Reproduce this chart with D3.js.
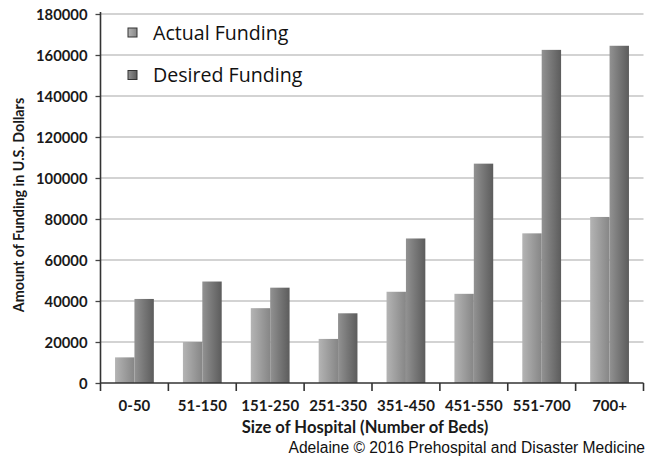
<!DOCTYPE html>
<html>
<head>
<meta charset="utf-8">
<script src="https://cdn.jsdelivr.net/npm/d3@7"></script>
<style>
  html, body { margin: 0; padding: 0; background: #fff; }
  svg { display: block; }
</style>
</head>
<body>
<svg id="chart" width="647" height="459"></svg>
<script>
// Funding by hospital size (US dollars)
const categories = ["0-50", "51-150", "151-250", "251-350", "351-450", "451-550", "551-700", "700+"];
const seriesNames = ["Actual Funding", "Desired Funding"];
const actualFunding = [12500, 20000, 36500, 21500, 44500, 43500, 73000, 81000];
const desiredFunding = [41000, 49500, 46500, 34000, 70500, 107000, 162500, 164500];
const yTicks = [0, 20000, 40000, 60000, 80000, 100000, 120000, 140000, 160000, 180000];

const svg = d3.select("#chart");
const plot = { left: 100.5, right: 643.5, top: 14, bottom: 383 };
const labelFont = "Lato, 'Open Sans', sans-serif";

const defs = svg.append("defs");
function grad(id, stops) {
  const g = defs.append("linearGradient").attr("id", id)
    .attr("x1", "0%").attr("x2", "100%").attr("y1", "0%").attr("y2", "0%");
  stops.forEach(([o, c]) => g.append("stop").attr("offset", o).attr("stop-color", c));
}
grad("gActual", [["0%", "#b4b4b4"], ["100%", "#868686"]]);
grad("gDesired", [["0%", "#929292"], ["45%", "#797979"], ["100%", "#5c5c5c"]]);
const fills = ["url(#gActual)", "url(#gDesired)"];

const x0 = d3.scaleBand().domain(categories).range([plot.left, plot.right]).paddingInner(0).paddingOuter(0);
// two bars per group, gap of 150% of a bar width
const barW = x0.bandwidth() / 3.5;
const x1 = d3.scaleBand().domain(seriesNames).range([0, barW * 2]);
const y = d3.scaleLinear().domain([0, 180000]).range([plot.bottom, plot.top]);

// gridlines
svg.append("g").selectAll("line").data(yTicks.filter(t => t > 0)).join("line")
  .attr("x1", plot.left).attr("x2", plot.right)
  .attr("y1", d => y(d)).attr("y2", d => y(d))
  .attr("stroke", "#c4c4c4").attr("stroke-width", 1.6);

// bars
const rows = categories.map((c, i) => ({ cat: c, vals: [actualFunding[i], desiredFunding[i]] }));
const groups = svg.append("g").selectAll("g").data(rows).join("g")
  .attr("transform", d => `translate(${x0(d.cat) + (x0.bandwidth() - barW * 2) / 2},0)`);
groups.selectAll("rect").data(d => d.vals.map((v, k) => ({ v, k })))
  .join("rect")
  .attr("x", d => x1(seriesNames[d.k]))
  .attr("width", x1.bandwidth())
  .attr("y", d => y(d.v))
  .attr("height", d => y(0) - y(d.v))
  .attr("fill", d => fills[d.k]);

// y axis
const yAxis = d3.axisLeft(y).tickValues(yTicks).tickSize(5).tickPadding(8).tickFormat(d3.format("d"));
const gy = svg.append("g").attr("transform", `translate(${plot.left},0)`).call(yAxis);
gy.select(".domain").remove();
gy.selectAll(".tick line").attr("stroke", "#444").attr("stroke-width", 1.3);
gy.selectAll(".tick text")
  .attr("font-family", labelFont).attr("font-weight", "bold").attr("font-size", 14.8)
  .attr("fill", "#1a1a1a").attr("dy", "0.36em");
svg.append("line").attr("x1", plot.left).attr("x2", plot.left)
  .attr("y1", plot.top - 2).attr("y2", plot.bottom + 8)
  .attr("stroke", "#333").attr("stroke-width", 1.6);

// x axis
const gx = svg.append("g").attr("transform", `translate(0,${plot.bottom})`)
  .call(d3.axisBottom(x0).tickSize(0).tickPadding(17));
gx.select(".domain").remove();
gx.selectAll(".tick text")
  .attr("font-family", labelFont).attr("font-weight", "bold").attr("font-size", 15)
  .attr("fill", "#1a1a1a");
svg.append("line").attr("x1", plot.left).attr("x2", plot.right)
  .attr("y1", plot.bottom).attr("y2", plot.bottom)
  .attr("stroke", "#333").attr("stroke-width", 1.6);
// boundary ticks between categories
const bounds = categories.map(c => x0(c) + x0.bandwidth());
svg.append("g").selectAll("line").data(bounds).join("line")
  .attr("x1", d => d).attr("x2", d => d)
  .attr("y1", plot.bottom).attr("y2", plot.bottom + 8)
  .attr("stroke", "#333").attr("stroke-width", 1.6);

// axis titles
svg.append("text")
  .attr("x", (plot.left + plot.right) / 2 - 7).attr("y", 433)
  .attr("text-anchor", "middle")
  .attr("font-family", labelFont).attr("font-weight", "bold").attr("font-size", 16.6)
  .attr("fill", "#1a1a1a")
  .text("Size of Hospital (Number of Beds)");
svg.append("text")
  .attr("transform", `translate(24,205) rotate(-90)`)
  .attr("text-anchor", "middle")
  .attr("font-family", labelFont).attr("font-weight", "bold").attr("font-size", 14.3)
  .attr("fill", "#1a1a1a")
  .text("Amount of Funding in U.S. Dollars");

// legend
const legend = svg.append("g").attr("transform", "translate(128,0)");
const legendY = [32.5, 75];
seriesNames.forEach((name, k) => {
  legend.append("rect")
    .attr("x", 0).attr("y", legendY[k] - 4.5).attr("width", 9).attr("height", 9)
    .attr("fill", fills[k]).attr("stroke", "#333").attr("stroke-width", 1);
  legend.append("text")
    .attr("x", 25).attr("y", legendY[k]).attr("dy", "0.36em")
    .attr("font-family", "'Open Sans', Lato, sans-serif").attr("font-size", 19.6)
    .attr("font-weight", 500)
    .attr("fill", "#111")
    .text(name);
});

// credit line
svg.append("text")
  .attr("x", 645).attr("y", 453)
  .attr("text-anchor", "end")
  .attr("font-family", "'Liberation Sans', Arial, sans-serif").attr("font-size", 15.6)
  .attr("fill", "#111")
  .text("Adelaine \u00A9 2016 Prehospital and Disaster Medicine");
</script>
</body>
</html>
